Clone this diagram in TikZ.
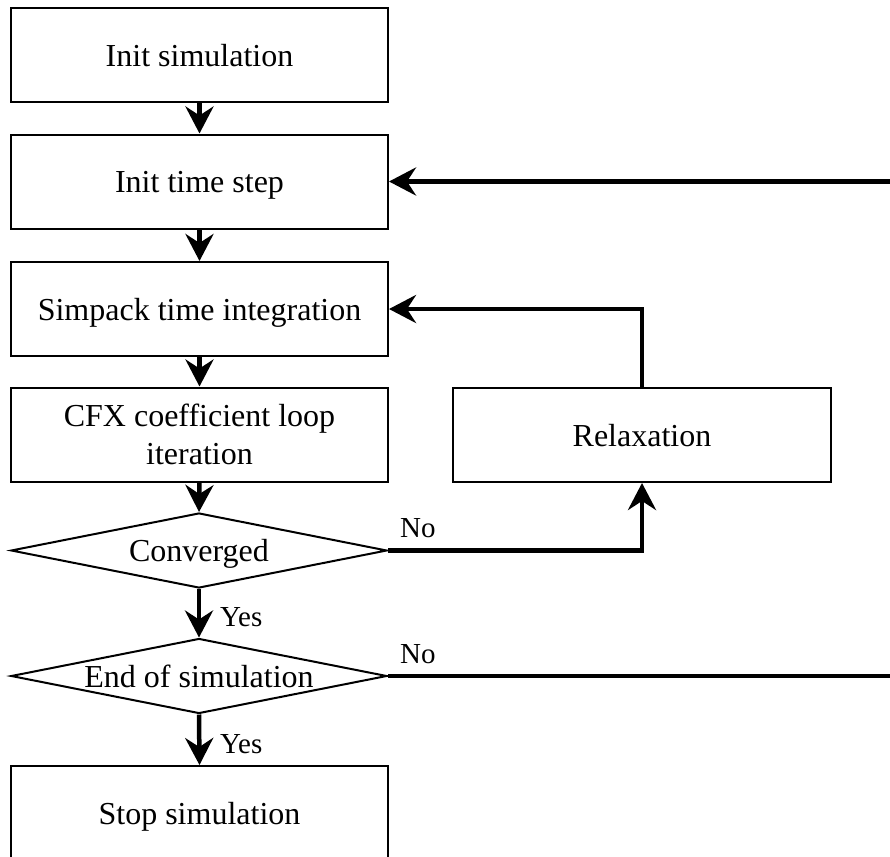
\documentclass[tikz,border=0pt]{standalone}
\usepackage{fontspec}
\setmainfont{Liberation Serif}
\usetikzlibrary{shapes.geometric,arrows.meta}
\begin{document}
\begin{tikzpicture}[x=1pt,y=1pt,
  stepbox/.style={draw, line width=2pt, rectangle, minimum width=377pt, minimum height=94pt, inner sep=0pt, align=center, text depth=0pt, font=\fontsize{32}{38}\selectfont},
  decis/.style={draw, line width=2pt, diamond, aspect=5, minimum width=376pt, minimum height=75pt, inner sep=0pt, text depth=0pt, font=\fontsize{32}{38}\selectfont},
  lbl/.style={inner sep=0pt, anchor=base west, font=\fontsize{29}{34}\selectfont},
  arr/.style={line width=4.5pt, -{Stealth[length=27pt,width=28pt,inset=9pt]}}
]
\useasboundingbox (0,0) rectangle (890,-856);
\node[stepbox] (b1) at (199.5,-55.5) {Init simulation};
\node[stepbox] (b2) at (199.5,-181.5) {Init time step};
\node[stepbox] (b3) at (199.5,-309) {Simpack time integration};
\node[stepbox] (b4) at (199.5,-434.5) {CFX coefficient loop\\iteration};
\node[decis] (d1) at (199,-550.5) {Converged};
\node[decis] (d2) at (199,-676) {End of simulation};
\node[stepbox] (b5) at (199.5,-813) {Stop simulation};
\node[stepbox, minimum width=378pt] (relax) at (642,-435) {Relaxation};
\coordinate (rt) at (900,0);

\draw[arr] (b1) -- (b2);
\draw[arr] (b2) -- (b3);
\draw[arr] (b3) -- (b4);
\draw[arr] (b4.south) -- (d1.north);
\draw[arr] (d1.south) -- (d2.north);
\draw[arr] (d2.south) -- (b5.north);
\draw[arr] (d1.east) -| (relax.south);
\draw[arr] (relax.north) |- (b3.east);
\draw[arr] (d2.east) -- (d2.east -| rt) |- (b2.east);

\node[lbl] (no1) at (400,-537) {No};
\node[lbl] (no2) at (400,-663) {No};
\node[lbl] (yes1) at (220,-626) {Yes};
\node[lbl] (yes2) at (220,-753) {Yes};
\end{tikzpicture}
\end{document}
